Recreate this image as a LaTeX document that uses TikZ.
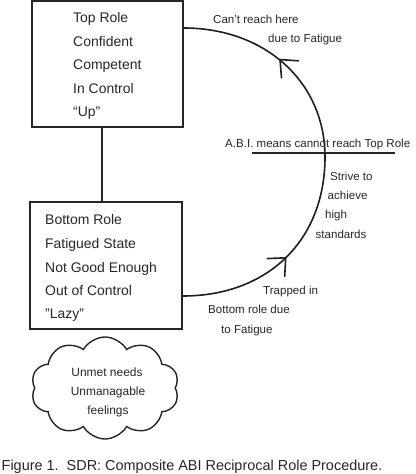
\documentclass[tikz,border=0pt]{standalone}
\usepackage{fontspec}
\setmainfont{Liberation Sans}
\usetikzlibrary{shapes.symbols}
\begin{document}
\begin{tikzpicture}[x=1bp,y=-1bp,
  ink/.style={draw=black!85, line width=1.4bp},
  loopline/.style={draw=black!88, line width=1.6bp},
  rolebox/.style={ink, rectangle, inner sep=0pt},
  txt/.style={inner sep=0pt, text=black!85, text depth=0pt},
  boxtext/.style={txt, anchor=west, font=\fontsize{14}{16}\selectfont, text height=10bp},
  sidetext/.style={txt, anchor=west, font=\fontsize{11.6}{14}\selectfont, text height=8.3bp},
  cloudtext/.style={txt, anchor=center, font=\fontsize{12}{14}\selectfont, text height=8.6bp},
  barbtip/.style={loopline, line cap=round, line join=miter}
]
\useasboundingbox (0,0) rectangle (415,474);

% role boxes
\node[rolebox, minimum width=151bp, minimum height=126bp] (top) at (107.5,64) {};
\node[rolebox, minimum width=152bp, minimum height=127bp] (bot) at (106,265.5) {};

\node[boxtext] (t1) at (73,18) {Top Role};
\node[boxtext] (t2) at (73,42) {Confident};
\node[boxtext] (t3) at (73,65) {Competent};
\node[boxtext] (t4) at (73,88.5) {In Control};
\node[boxtext] (t5) at (73,112) {“Up”};

\node[boxtext] (b1) at (45,220) {Bottom Role};
\node[boxtext] (b2) at (45,243.5) {Fatigued State};
\node[boxtext] (b3) at (45,267) {Not Good Enough};
\node[boxtext] (b4) at (45,290) {Out of Control};
\node[boxtext] (b5) at (45,313.5) {"Lazy"};

% link between roles
\draw[ink] (top.south -| 102,0) -- (bot.north -| 102,0);

% procedure loop
\draw[loopline] (bot.east |- 0,296) .. controls (267.8,296) and (325,240.4) .. (325,157)
   .. controls (325,82.2) and (265.4,28) .. (top.east |- 0,28);

% arrowheads on the loop
\coordinate (tipb) at (285.7,257.8);
\coordinate (tipt) at (280,59.6);
\draw[barbtip] ([shift={(-18.5,0.8)}]tipb) -- (tipb) -- ([shift={(-1,18.5)}]tipb);
\draw[barbtip] ([shift={(18.5,1.2)}]tipt) -- (tipt) -- ([shift={(1.5,18.2)}]tipt);

% labels along the loop
\node[sidetext] (c1) at (213,19) {Can't reach here};
\node[sidetext] (c2) at (268,38) {due to Fatigue};

\node[sidetext] (abi) at (225,143) {A.B.I. means cannot reach Top Role};
\coordinate (ul1) at (252,153);
\coordinate (ul2) at (395,153);
\draw[ink] (ul1) -- (ul2);

\node[sidetext] (s1) at (330,176.5) {Strive to};
\node[sidetext] (s2) at (327.5,195.5) {achieve};
\node[sidetext] (s3) at (325,214.5) {high};
\node[sidetext] (s4) at (315.5,234) {standards};

\node[sidetext] (r1) at (263,290) {Trapped in};
\node[sidetext] (r2) at (208,309.5) {Bottom role due};
\node[sidetext] (r3) at (221,329) {to Fatigue};

% cloud
\node[ink, cloud, cloud puffs=10, cloud puff arc=120, cloud ignores aspect,
      minimum width=148bp, minimum height=102bp, inner sep=0pt] (cloud) at (105,388) {};
\node[cloudtext] (u1) at (107,372) {Unmet needs};
\node[cloudtext] (u2) at (108,391) {Unmanagable};
\node[cloudtext] (u3) at (108,410) {feelings};

% caption
\node[txt, anchor=west, font=\fontsize{14.5}{16}\selectfont, text height=10.4bp] (cap) at (1.5,465)
  {Figure 1.\ \ SDR: Composite ABI Reciprocal Role Procedure.};
\end{tikzpicture}
\end{document}
